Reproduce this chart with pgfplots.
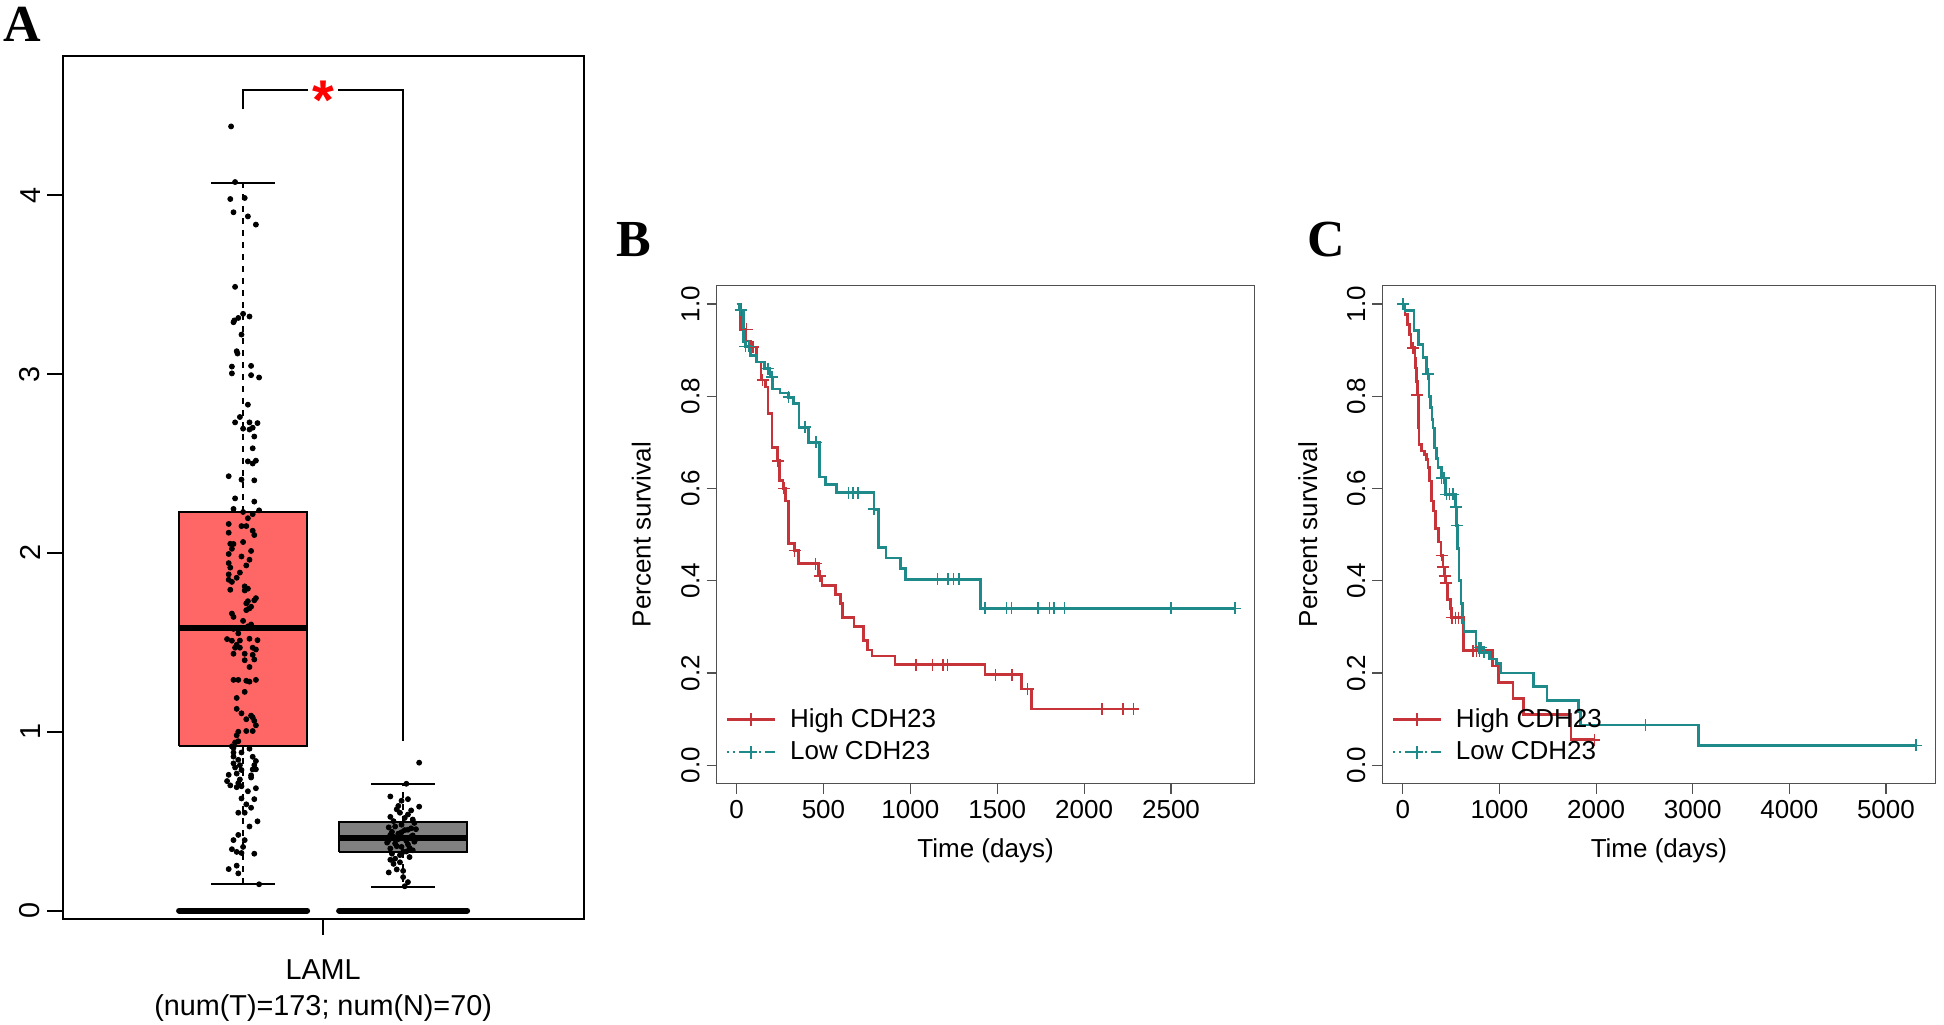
\documentclass[border=0pt]{standalone}
\usepackage{pgfplots}
\pgfplotsset{compat=1.18}
\usepackage{fontspec}
\setmainfont{Liberation Sans}
\newfontfamily\lettfont{Liberation Serif}
\definecolor{kmred}{RGB}{198,52,58}
\definecolor{kmteal}{RGB}{30,138,138}
\definecolor{boxred}{RGB}{255,102,102}
\definecolor{boxgrey}{RGB}{128,128,128}
\definecolor{framegrey}{RGB}{80,80,80}
\pgfplotsset{
  kmaxis/.style={
    scale only axis, anchor=south west,
    ymin=-0.04, ymax=1.04,
    ytick={0,0.2,0.4,0.6,0.8,1},
    tick pos=left, tick align=outside, major tick length=5pt,
    axis line style={framegrey, line width=0.6pt},
    tick style={framegrey, line width=0.6pt},
    /pgf/number format/assume math mode=true,
    /pgf/number format/1000 sep={},
    yticklabel={\pgfmathprintnumber[fixed,fixed zerofill,precision=1]{\tick}},
    yticklabel style={rotate=90, anchor=south, font=\fontsize{13}{13.5}\selectfont},
    xticklabel style={font=\fontsize{13}{13.5}\selectfont},
    label style={font=\fontsize{13}{14.5}\selectfont},
    legend style={draw=none, fill=none, font=\fontsize{13}{14.5}\selectfont,
      at={(0.005,0.025)}, anchor=south west, row sep=1.5pt, column sep=5pt},
    legend cell align=left,
    legend image code/.code={\draw[mark repeat=2,mark phase=2,#1] plot coordinates {(0pt,0pt) (12pt,0pt) (24pt,0pt)};},
    const plot,
  },
  hiline/.style={kmred, line width=1.35pt, mark=none},
  loline/.style={kmteal, line width=1.35pt, mark=none},
  hicens/.style={kmred, only marks, mark=+, mark size=3pt, mark options={line width=0.75pt}},
  locens/.style={kmteal, only marks, mark=+, mark size=3pt, mark options={line width=0.75pt}},
}
\begin{document}
\begin{tikzpicture}
\useasboundingbox (0,0) rectangle (972pt,512pt);
\node[font=\lettfont\bfseries\fontsize{26}{26}\selectfont] at (11pt,500pt) {A};
\node[font=\lettfont\bfseries\fontsize{26}{26}\selectfont] at (317pt,392pt) {B};
\node[font=\lettfont\bfseries\fontsize{26}{26}\selectfont] at (663pt,392pt) {C};

% ---------------- Panel A ----------------
\begin{axis}[
  at={(31.6pt,52.7pt)}, anchor=south west,
  scale only axis, width=260.4pt, height=431.4pt,
  xmin=-0.124, xmax=3.13, ymin=-0.045, ymax=4.78,
  axis line style={black, line width=1pt},
  tick pos=left, tick align=outside, major tick length=8pt,
  tick style={black, line width=1pt},
  xtick={1.5}, xticklabels={{LAML\\(num(T)=173; num(N)=70)}},
  xticklabel style={align=center, font=\fontsize{14.4}{18}\selectfont, yshift=-9pt},
  ytick={0,1,2,3,4},
  yticklabel style={rotate=90, anchor=south, font=\fontsize{14.4}{15}\selectfont},
  /pgf/number format/assume math mode=true,
  clip=false,
]
% boxes
\addplot[fill=boxred, draw=black, line width=0.9pt] coordinates {(0.6,0.92) (1.4,0.92) (1.4,2.23) (0.6,2.23) (0.6,0.92)};
\addplot[fill=boxgrey, draw=black, line width=0.9pt] coordinates {(1.6,0.326) (2.4,0.326) (2.4,0.493) (1.6,0.493) (1.6,0.326)};
% whiskers
\addplot[black, line width=0.7pt, dash pattern=on 3pt off 3pt] coordinates {(1,2.23) (1,4.07)};
\addplot[black, line width=0.7pt, dash pattern=on 3pt off 3pt] coordinates {(1,0.92) (1,0.149)};
\addplot[black, line width=0.9pt] coordinates {(0.8,4.07) (1.2,4.07)};
\addplot[black, line width=0.9pt] coordinates {(0.8,0.149) (1.2,0.149)};
\addplot[black, line width=0.7pt, dash pattern=on 3pt off 3pt] coordinates {(2,0.493) (2,0.709)};
\addplot[black, line width=0.7pt, dash pattern=on 3pt off 3pt] coordinates {(2,0.326) (2,0.133)};
\addplot[black, line width=0.9pt] coordinates {(1.8,0.709) (2.2,0.709)};
\addplot[black, line width=0.9pt] coordinates {(1.8,0.133) (2.2,0.133)};
% medians
\addplot[black, line width=2.8pt] coordinates {(0.6,1.58) (1.4,1.58)};
\addplot[black, line width=2.8pt] coordinates {(1.6,0.406) (2.4,0.406)};
% zero lines
\addplot[black, line width=3pt, line cap=round] coordinates {(0.6,0) (1.4,0)};
\addplot[black, line width=3pt, line cap=round] coordinates {(1.6,0) (2.4,0)};
% bracket
\addplot[black, line width=0.9pt] coordinates {(1,4.48) (1,4.59) (1.406,4.59)};
\addplot[black, line width=0.9pt] coordinates {(1.594,4.59) (2,4.59) (2,0.95)};
\node[text=red, font=\fontsize{28}{28}\selectfont\bfseries] at (axis cs:1.5,4.59) [yshift=-5pt] {*};
% tumour points
\addplot[only marks, mark=*, mark size=1.25pt, black] coordinates {
(0.925,4.385)(0.95,4.074)(0.92,3.979)(1.01,3.985)(0.94,3.905)(1.03,3.882)(1.08,3.836)(0.95,3.488)(0.94,3.29)(0.945,3.30)(0.97,3.314)(1.00,3.337)(1.04,3.322)(0.99,3.221)(0.96,3.128)(0.965,3.115)(0.93,3.042)(1.05,3.046)(0.93,3.004)(1.05,2.994)(1.10,2.981)(1.03,2.829)(0.98,2.76)(0.95,2.73)(1.04,2.73)(1.09,2.726)(1.00,2.695)(1.04,2.69)(1.06,2.70)(1.07,2.651)(1.06,2.585)(1.03,2.512)(1.08,2.516)(1.06,2.50)(0.91,2.429)(0.99,2.41)(1.07,2.406)(0.95,2.305)(1.07,2.287)
(0.94,2.246)(1.0,2.229)(1.10,2.238)(1.06,2.217)(1.03,2.194)(0.91,2.162)(0.99,2.15)(1.02,2.15)(1.06,2.124)(0.91,2.113)(1.07,2.10)(1.0,2.061)(0.92,2.051)(0.94,2.05)(0.93,2.023)(1.05,2.011)(0.91,1.994)(1.04,1.962)(0.91,1.943)(0.92,1.918)(0.98,1.89)(0.91,1.88)(0.96,1.861)(0.91,1.85)(0.93,1.838)(1.01,1.813)(1.03,1.80)(0.92,1.794)(1.01,1.79)(1.08,1.747)(1.07,1.735)(1.02,1.718)(1.05,1.699)(1.04,1.69)(1.02,1.68)(0.93,1.661)(0.94,1.642)(1.03,1.589)(1.05,1.587)(0.94,1.575)(0.90,1.518)(0.93,1.509)(0.98,1.51)(1.04,1.52)(1.09,1.512)(0.96,1.486)(0.95,1.47)(1.06,1.47)(0.98,1.47)(1.08,1.46)(1.01,1.436)(0.94,1.436)(1.06,1.43)(1.07,1.404)(1.01,1.40)(1.04,1.362)(0.94,1.29)(0.97,1.29)(1.02,1.285)(1.04,1.28)(1.08,1.29)(1.01,1.223)(0.96,1.189)(0.96,1.128)(0.99,1.103)(1.05,1.09)(1.06,1.08)(1.02,1.07)(1.07,1.061)(1.08,1.036)(1.06,1.004)(1.02,1.004)(0.97,1.0)(0.96,0.98)(0.97,0.947)(0.95,0.94)(0.93,0.918)(0.94,0.91)(1.04,0.905)(0.94,0.884)(0.99,0.884)(0.94,0.861)(0.97,0.843)(1.08,0.836)(0.94,0.823)(0.98,0.813)(1.07,0.813)(1.06,0.789)(0.99,0.786)(0.96,0.766)(1.05,0.756)(0.91,0.759)(1.05,0.744)(0.98,0.733)(0.90,0.724)(0.97,0.713)(0.99,0.695)(0.96,0.69)(1.08,0.684)(1.03,0.667)(0.99,0.627)(1.07,0.623)(1.02,0.594)(1.05,0.575)(0.97,0.547)(1.01,0.547)(1.09,0.499)(1.04,0.47)(0.97,0.423)(0.94,0.394)(1.01,0.394)(1.0,0.356)(0.93,0.343)(0.96,0.328)(0.99,0.322)(1.07,0.318)(0.96,0.251)(0.91,0.232)(0.97,0.208)(1.10,0.147)
(1.05,1.60)(0.97,1.55)(1.02,1.93)(1.08,0.79)(0.95,0.80)(1.03,1.73)(0.99,1.98)(1.06,0.86)(0.92,0.70)(1.00,1.62)
};
% normal points
\addplot[only marks, mark=*, mark size=1.25pt, black] coordinates {
(2.10,0.827)(2.02,0.709)(1.92,0.638)(2.03,0.623)(1.99,0.614)(2.10,0.581)(1.97,0.585)(1.96,0.566)(1.98,0.547)(2.03,0.537)(1.92,0.524)(2.01,0.518)(2.06,0.509)(2.07,0.49)(1.99,0.48)(1.95,0.47)(1.91,0.465)(2.08,0.455)(2.03,0.452)(1.99,0.438)(1.92,0.423)(1.94,0.413)(2.05,0.413)(2.00,0.404)(1.91,0.394)(2.07,0.385)(1.95,0.375)(2.03,0.37)(1.99,0.356)(1.92,0.347)(2.06,0.337)(2.00,0.328)(1.93,0.318)(2.04,0.299)(1.95,0.29)(1.92,0.284)(1.98,0.27)(1.94,0.261)(2.00,0.222)(1.91,0.213)(1.96,0.23)(2.00,0.187)(2.03,0.159)(2.01,0.136)
(2.05,0.46)(1.97,0.43)(2.02,0.39)(1.96,0.36)(2.08,0.40)(1.93,0.44)(2.04,0.35)(1.98,0.31)(2.06,0.42)(1.94,0.50)(2.01,0.45)(2.02,0.33)(1.97,0.40)(2.05,0.56)(1.90,0.38)
};
\end{axis}

% ---------------- Panel B ----------------
\begin{axis}[kmaxis,
  at={(358.3pt,120.2pt)}, width=269pt, height=249pt,
  xmin=-115, xmax=2981,
  xtick={0,500,1000,1500,2000,2500},
  xlabel={Time (days)}, ylabel={Percent survival},
  xlabel style={at={(axis description cs:0.5,-0.135)}, anchor=center},
  ylabel style={at={(axis description cs:-0.14,0.5)}, anchor=center},
]
\addplot[hiline, forget plot] coordinates {
(0,1.0)(23,0.945)(51,0.92)(79,0.907)(116,0.874)(140,0.835)(165,0.82)(180,0.762)(204,0.689)(236,0.66)(245,0.617)(267,0.60)(280,0.573)(300,0.48)(334,0.465)(358,0.437)(470,0.41)(491,0.39)(570,0.37)(599,0.35)(611,0.32)(676,0.30)(731,0.27)(755,0.25)(780,0.237)(912,0.218)(1429,0.196)(1641,0.165)(1699,0.122)(2290,0.122)};
\addplot[loline, forget plot] coordinates {
(0,1.0)(15,0.987)(40,0.918)(50,0.908)(79,0.889)(116,0.874)(162,0.86)(193,0.842)(208,0.816)(249,0.807)(300,0.798)(328,0.784)(360,0.733)(415,0.70)(476,0.625)(513,0.609)(574,0.591)(790,0.555)(817,0.472)(860,0.449)(942,0.426)(971,0.403)(1405,0.34)(2868,0.34)};
\addplot[hicens, forget plot] coordinates {
(58,0.945)(94,0.907)(150,0.835)(238,0.66)(274,0.60)(334,0.465)(455,0.437)(479,0.41)(1032,0.218)(1128,0.218)(1189,0.218)(1213,0.218)(1489,0.196)(1586,0.196)(1675,0.165)(2103,0.122)(2223,0.122)(2283,0.122)};
\addplot[locens, forget plot] coordinates {
(23,0.987)(51,0.908)(70,0.908)(180,0.86)(204,0.842)(300,0.798)(393,0.733)(458,0.70)(643,0.591)(670,0.591)(698,0.591)(790,0.555)(1157,0.403)(1217,0.403)(1249,0.403)(1280,0.403)(1429,0.34)(1554,0.34)(1581,0.34)(1735,0.34)(1802,0.34)(1826,0.34)(1886,0.34)(2500,0.34)(2868,0.34)};
\addlegendimage{kmred, line width=1.2pt, mark=+, mark size=3.2pt, mark options={solid, line width=0.8pt}}
\addlegendentry{High CDH23}
\addlegendimage{kmteal, line width=1.2pt, dash pattern=on 1pt off 2pt on 1pt off 2pt on 5pt off 2pt, mark=+, mark size=3.2pt, mark options={solid, line width=0.8pt}}
\addlegendentry{Low CDH23}
\end{axis}

% ---------------- Panel C ----------------
\begin{axis}[kmaxis,
  at={(691.2pt,120.2pt)}, width=276.5pt, height=249pt,
  xmin=-212, xmax=5512,
  xtick={0,1000,2000,3000,4000,5000},
  xlabel={Time (days)}, ylabel={Percent survival},
  xlabel style={at={(axis description cs:0.5,-0.135)}, anchor=center},
  ylabel style={at={(axis description cs:-0.135,0.5)}, anchor=center},
]
\addplot[hiline, forget plot] coordinates {
(0,1.0)(22,0.977)(46,0.955)(66,0.934)(83,0.905)(124,0.883)(134,0.861)(141,0.832)(148,0.803)(158,0.775)(165,0.731)(168,0.695)(192,0.681)(226,0.674)(243,0.663)(260,0.645)(277,0.616)(294,0.573)(316,0.551)(340,0.513)(370,0.484)(395,0.455)(415,0.43)(430,0.41)(445,0.395)(465,0.36)(490,0.339)(500,0.32)(627,0.248)(930,0.215)(990,0.18)(1140,0.145)(1250,0.11)(1740,0.055)(1990,0.055)};
\addplot[loline, forget plot] coordinates {
(0,1.0)(22,0.986)(114,0.942)(158,0.912)(209,0.884)(243,0.848)(270,0.80)(288,0.775)(300,0.75)(311,0.731)(328,0.688)(345,0.665)(363,0.645)(397,0.623)(440,0.587)(548,0.56)(555,0.52)(565,0.47)(580,0.40)(600,0.35)(618,0.31)(631,0.29)(757,0.255)(835,0.245)(900,0.23)(970,0.22)(1008,0.2)(1354,0.17)(1492,0.14)(1821,0.115)(1838,0.087)(3062,0.043)(5311,0.043)};
\addplot[hicens, forget plot] coordinates {
(107,0.905)(151,0.803)(400,0.455)(420,0.43)(432,0.41)(450,0.395)(510,0.32)(545,0.32)(575,0.32)(727,0.248)(760,0.248)(793,0.248)(1981,0.055)};
\addplot[locens, forget plot] coordinates {
(0,1.0)(260,0.848)(400,0.623)(425,0.623)(450,0.587)(480,0.587)(520,0.587)(552,0.56)(555,0.52)(790,0.255)(810,0.255)(840,0.245)(2513,0.087)(5311,0.043)};
\addlegendimage{kmred, line width=1.2pt, mark=+, mark size=3.2pt, mark options={solid, line width=0.8pt}}
\addlegendentry{High CDH23}
\addlegendimage{kmteal, line width=1.2pt, dash pattern=on 1pt off 2pt on 1pt off 2pt on 5pt off 2pt, mark=+, mark size=3.2pt, mark options={solid, line width=0.8pt}}
\addlegendentry{Low CDH23}
\end{axis}
\end{tikzpicture}
\end{document}
